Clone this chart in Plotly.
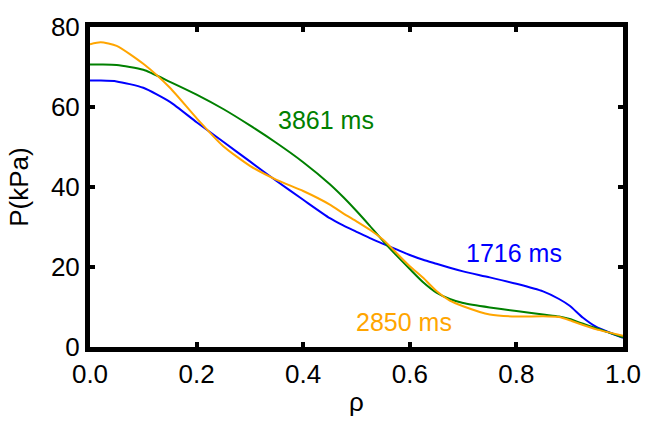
import plotly.graph_objects as go

rho = [0.0, 0.02, 0.05, 0.1, 0.15, 0.2, 0.25, 0.3, 0.35, 0.4, 0.45, 0.475, 0.5, 0.525, 0.55,
       0.575, 0.6, 0.625, 0.65, 0.675, 0.7, 0.75, 0.8, 0.85, 0.88, 0.9, 0.925, 0.95, 1.0]

p_1716 = [66.6, 66.6, 66.4, 64.8, 61.3, 56.2, 51.3, 46.4, 41.5, 36.8, 32.2, 30.4, 28.8, 27.2, 25.8,
          24.4, 23.0, 21.8, 20.8, 19.8, 18.9, 17.4, 15.8, 13.9, 12.0, 10.3, 7.3, 5.0, 2.3]
p_3861 = [70.6, 70.6, 70.5, 69.3, 66.3, 63.1, 59.5, 55.4, 51.0, 46.2, 40.7, 37.5, 34.0, 30.3, 26.5,
          22.9, 19.5, 16.2, 13.6, 12.0, 11.0, 9.9, 9.0, 8.1, 7.6, 7.0, 5.8, 4.7, 2.4]
p_2850 = [75.7, 76.2, 75.3, 70.8, 64.8, 57.2, 50.2, 45.3, 41.8, 39.0, 35.6, 33.4, 31.4, 29.3, 26.8,
          23.5, 20.2, 17.3, 14.0, 11.6, 10.2, 8.1, 7.6, 7.7, 7.5, 6.7, 5.5, 4.4, 2.8]

series = [
    ("1716 ms", p_1716, "#0000ff", 0.795, 23.6),
    ("3861 ms", p_3861, "#008000", 0.442, 56.8),
    ("2850 ms", p_2850, "#ffa500", 0.59, 6.3),
]

FONT = "Arial, Liberation Sans, sans-serif"

fig = go.Figure()
for name, ys, col, ax, ay in series:
    fig.add_trace(go.Scatter(x=rho, y=ys, mode="lines", name=name,
                             line=dict(color=col, width=2, shape="spline", smoothing=0.6)))
    fig.add_annotation(x=ax, y=ay, text=name, showarrow=False,
                       font=dict(color=col, size=25, family=FONT))

axis_common = dict(showline=True, linewidth=5, linecolor="black", mirror="ticks",
                   ticks="inside", ticklen=5, tickwidth=4, tickcolor="black",
                   showgrid=False, zeroline=False,
                   tickfont=dict(size=26, family=FONT, color="black"))

fig.update_layout(
    width=653, height=425,
    margin=dict(l=90, r=22, t=15, b=77),
    plot_bgcolor="white", paper_bgcolor="white",
    showlegend=False,
    xaxis=dict(range=[0, 1], tickvals=[0, 0.2, 0.4, 0.6, 0.8, 1.0],
               ticktext=["0.0", "0.2", "0.4", "0.6", "0.8", "1.0"],
               title=dict(text="ρ", font=dict(size=26, family=FONT, color="black"), standoff=6),
               **axis_common),
    yaxis=dict(range=[0, 80], tickvals=[0, 20, 40, 60, 80],
               title=dict(text="P(kPa)", font=dict(size=26, family=FONT, color="black"), standoff=16),
               **axis_common),
)

fig.write_html("out.html")
